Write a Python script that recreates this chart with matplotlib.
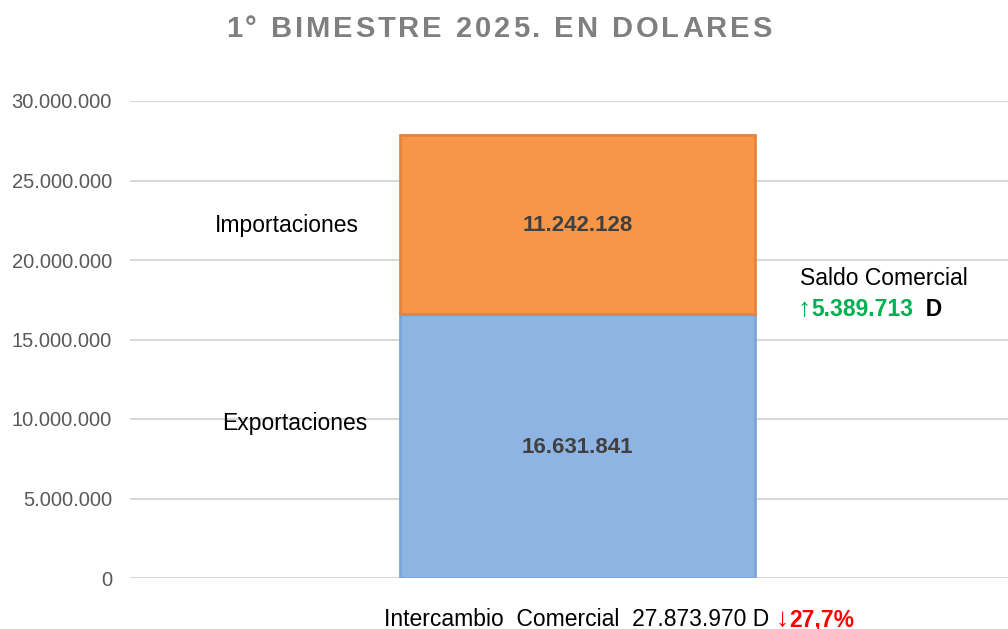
import matplotlib
matplotlib.use("Agg")
import matplotlib.pyplot as plt
from matplotlib.ticker import FuncFormatter

# data
categories = ["Exportaciones", "Importaciones"]
values = [16631841, 11242128]
total = 27873970
saldo = 5389713
variacion = "27,7%"
title = "1° BIMESTRE 2025. EN DOLARES"

FAM = ["Liberation Sans", "DejaVu Sans"]
plt.rcParams['font.family'] = FAM

def miles(v):
    return f"{int(round(v)):,}".replace(",", ".")

fig = plt.figure(figsize=(10.08, 6.29), dpi=100)
ax = fig.add_axes([130/1008, 51/629, 878/1008, 477/629])

colors = ["#8EB4E3", "#F79646"]
edges = ["#7AA5D8", "#E8823F"]
bottom = 0
for cat, v, c, ec in zip(categories, values, colors, edges):
    ax.bar(0.01, v, width=0.404, bottom=bottom, color=c, edgecolor=ec, linewidth=2, zorder=3)
    ax.text(0.01, bottom + v / 2 - 0.1e6, miles(v),
            ha="center", va="center", fontsize=16, fontweight="bold", color="#404040", zorder=4)
    bottom += v

ax.set_xlim(-0.5, 0.5)
ax.set_ylim(0, 30e6)
ax.set_yticks(range(0, 30000001, 5000000))
ax.yaxis.set_major_formatter(FuncFormatter(lambda v, p: miles(v)))
ax.tick_params(axis="y", length=0, labelsize=14.5, labelcolor="#595959", pad=13)
ax.set_xticks([])
ax.grid(axis="y", color="#D9D9D9", linewidth=1.5, zorder=0)
for s in ax.spines.values():
    s.set_visible(False)

# category labels beside the bar
ax.text(-0.312, 9.69e6, categories[0], ha="center", va="center", fontsize=16.5, color="black")
ax.text(-0.321, 22.14e6, categories[1], ha="center", va="center", fontsize=16.5, color="black")

renderer = fig.canvas.get_renderer()

def draw_pieces(x, y, pieces):
    # pieces: (text, color, weight, size) laid out left to right, x/y in figure pixels
    for txt, col, wt, sz in pieces:
        t = fig.text(x / 1008, 1 - y / 629, txt, color=col, fontweight=wt, fontsize=sz,
                     ha="left", va="baseline")
        x += t.get_window_extent(renderer).width
    return x

# title with letter spacing
tx = 226
for ch in title:
    t = fig.text(tx / 1008, 1 - 37 / 629, ch, color="#7F7F7F", fontweight="bold", fontsize=21,
                 ha="left", va="baseline")
    tx += t.get_window_extent(renderer).width + 2.9

draw_pieces(800, 285, [("Saldo Comercial", "black", "normal", 16.5)])
draw_pieces(798, 316, [("↑", "#00B050", "normal", 19), (miles(saldo), "#00B050", "bold", 16.5),
                       ("  D", "black", "bold", 16.5)])
draw_pieces(384, 626, [("Intercambio  Comercial  " + miles(total) + " D ", "black", "normal", 16.5),
                       ("↓", "#FF0000", "normal", 19), (variacion, "#FF0000", "bold", 16.5)])

fig.savefig("out.png", dpi=100)
